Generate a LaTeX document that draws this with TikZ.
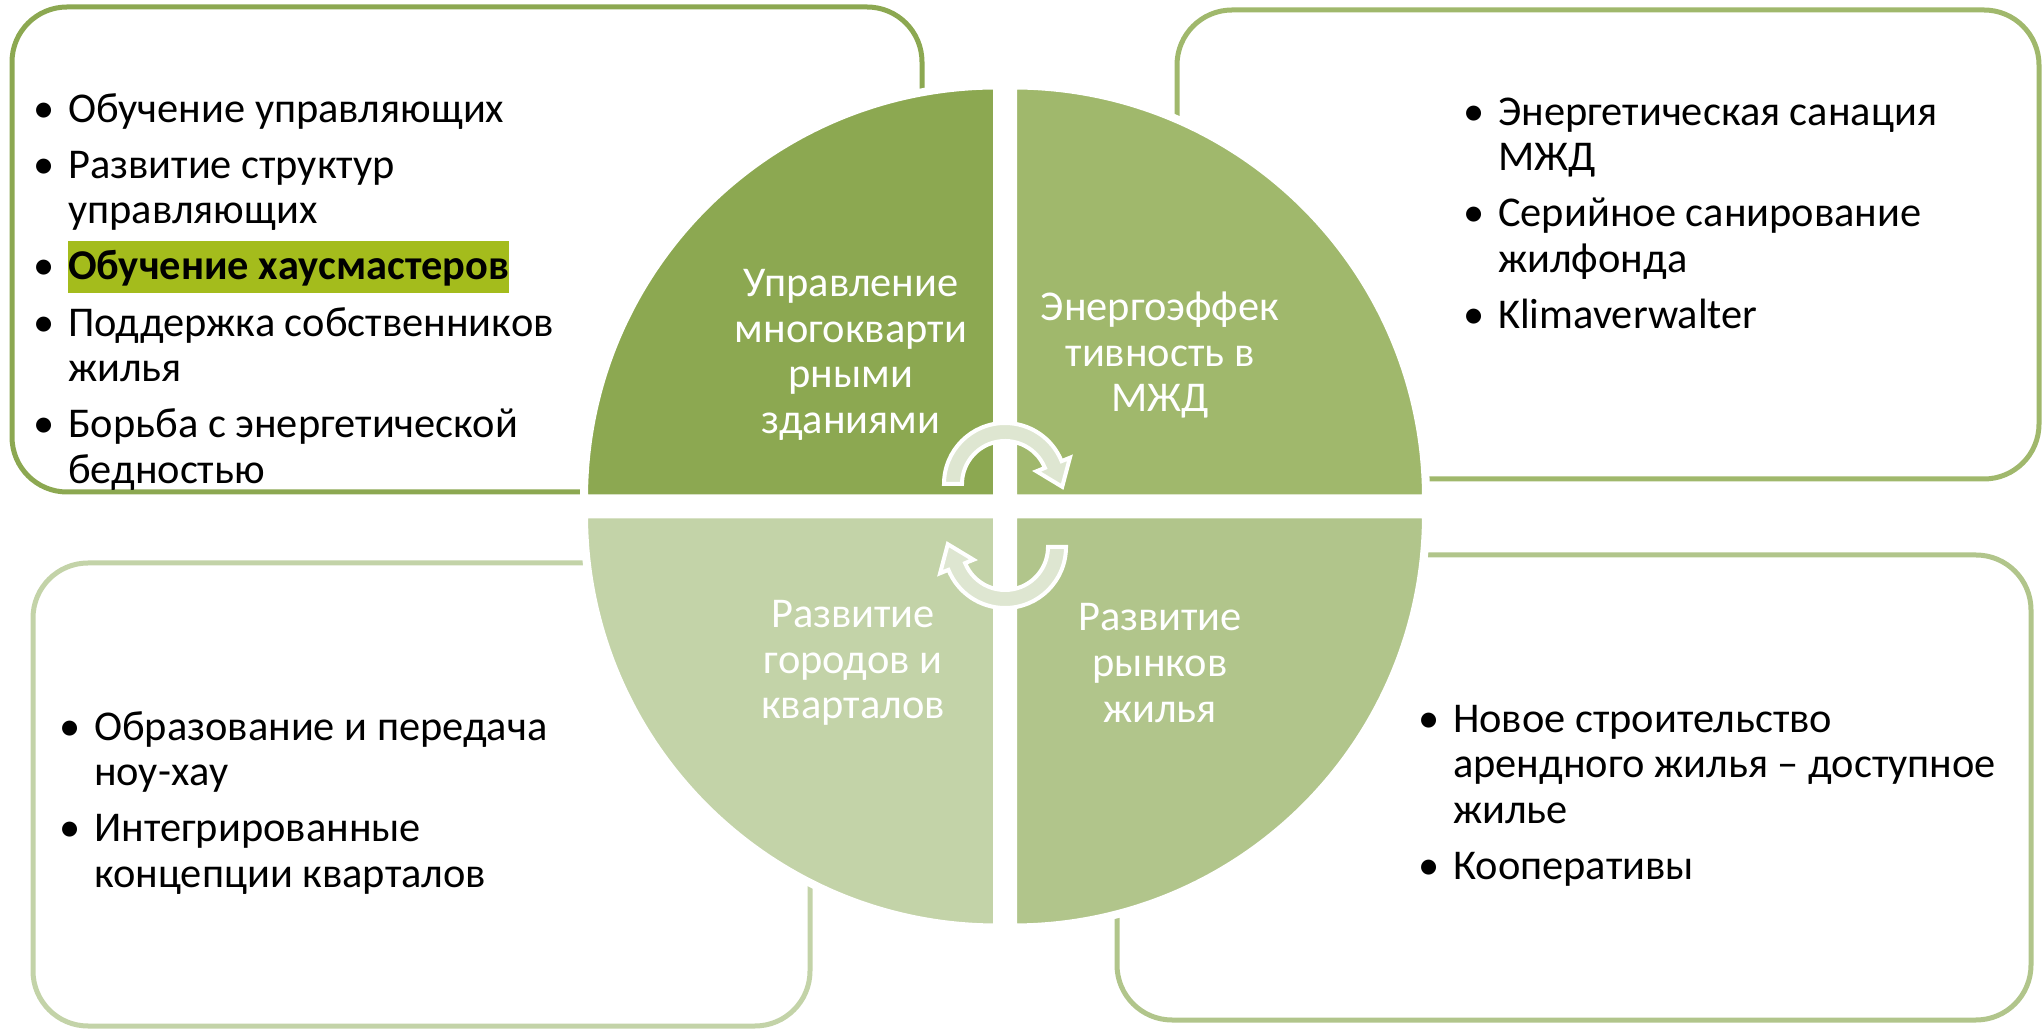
\documentclass[tikz,border=0pt]{standalone}
\usepackage{fontspec}
\setmainfont{Carlito}
\usepackage{xcolor}
\usepackage{tikz}
\usetikzlibrary{calc,positioning}

\definecolor{darkolive}{HTML}{8CA851}
\definecolor{midolive}{HTML}{A0B86C}
\definecolor{lightolive}{HTML}{B1C58B}
\definecolor{paleolive}{HTML}{C3D3A8}
\definecolor{arrowfill}{HTML}{DEE6D1}
\definecolor{marker}{HTML}{A4BC1C}

\setlength{\fboxsep}{0pt}
\newcommand{\bigfont}{\fontsize{42.4}{45.6}\selectfont}
\newcommand{\bulletmark}{\makebox[35pt][l]{\textbullet}}
\newcommand{\marked}[1]{\smash{\colorbox{marker}{\rule[-13pt]{0pt}{52pt}#1}}}

\begin{document}
\begin{tikzpicture}[x=1pt,y=1pt,
  frame/.style={draw=#1, line width=5pt, rounded corners=55pt, anchor=south west, inner sep=0pt, outer sep=0pt},
  quadtext/.style={text=white, font=\bigfont, align=center},
  bullets/.style={font=\bigfont, anchor=north west, inner sep=0pt},
  quarter/.style={fill=#1, draw=white, line width=8pt},
  turn/.style={fill=arrowfill, draw=white, line width=4pt, line join=miter}]

\useasboundingbox (0,0) rectangle (2043,1031);

\node[frame=darkolive, minimum width=910pt, minimum height=485pt] (F1) at (12,539) {};
\node[frame=midolive, minimum width=862pt, minimum height=469pt] (F2) at (1177,552) {};
\node[frame=paleolive, minimum width=777pt, minimum height=463pt] (F3) at (33,5) {};
\node[frame=lightolive, minimum width=914pt, minimum height=465pt] (F4) at (1117,11) {};

\draw[quarter=darkolive] (997,532.5) -- ++(-413,0) arc (180:90:413) -- cycle;
\draw[quarter=midolive] (1013,532.5) -- ++(0,413) arc (90:0:413) -- cycle;
\draw[quarter=lightolive] (1013,516.5) -- ++(413,0) arc (0:-90:413) -- cycle;
\draw[quarter=paleolive] (997,516.5) -- ++(0,-413) arc (270:180:413) -- cycle;

\coordinate (TA) at (1005,547);
\coordinate (BA) at (1005,484);

\draw[turn] ($(TA)+(180:61)$) arc (180:22:61) -- ($(TA)+(22:70)$)
  -- ($(TA)+(22:52)+(-68:24)$) -- ($(TA)+(22:34)$) -- ($(TA)+(22:43)$)
  arc (22:180:43) -- cycle;
\draw[turn] ($(BA)+(0:61)$) arc (0:-158:61) -- ($(BA)+(-158:70)$)
  -- ($(BA)+(-158:52)+(112:24)$) -- ($(BA)+(-158:34)$) -- ($(BA)+(-158:43)$)
  arc (-158:0:43) -- cycle;

\node[quadtext] (Q1) at (851,676) {Управление\\многокварти\\рными\\зданиями};
\node[quadtext] (Q2) at (1160,676) {Энергоэффек\\тивность в\\МЖД};
\node[quadtext] (Q3) at (853,368) {Развитие\\городов и\\кварталов};
\node[quadtext] (Q4) at (1160,368) {Развитие\\рынков\\жилья};

\node[bullets] (L1) at (33,941) {\begin{tabular}{@{}l@{}l@{}}
\bulletmark & Обучение управляющих\\[10.5pt]
\bulletmark & Развитие структур\\
 & управляющих\\[10.5pt]
\bulletmark & \textbf{\marked{Обучение хаусмастеров}}\\[10.5pt]
\bulletmark & Поддержка собственников\\
 & жилья\\[10.5pt]
\bulletmark & Борьба с энергетической\\
 & бедностью
\end{tabular}};

\node[bullets] (L2) at (1463,938) {\begin{tabular}{@{}l@{}l@{}}
\bulletmark & Энергетическая санация\\
 & МЖД\\[10.5pt]
\bulletmark & Серийное санирование\\
 & жилфонда\\[10.5pt]
\bulletmark & Klimaverwalter
\end{tabular}};

\node[bullets] (L3) at (59,323) {\begin{tabular}{@{}l@{}l@{}}
\bulletmark & Образование и передача\\
 & ноу-хау\\[10.5pt]
\bulletmark & Интегрированные\\
 & концепции кварталов
\end{tabular}};

\node[bullets] (L4) at (1418,331) {\begin{tabular}{@{}l@{}l@{}}
\bulletmark & Новое строительство\\
 & арендного жилья – доступное\\
 & жилье\\[10.5pt]
\bulletmark & Кооперативы
\end{tabular}};

\end{tikzpicture}
\end{document}
